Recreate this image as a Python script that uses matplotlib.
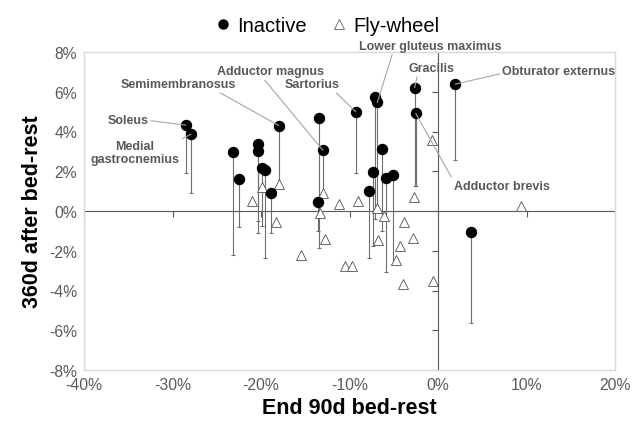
import matplotlib
matplotlib.use("Agg")
import matplotlib.pyplot as plt
from matplotlib.lines import Line2D
from matplotlib.markers import TICKDOWN, TICKLEFT
from matplotlib.ticker import FuncFormatter

plt.rcParams['font.family'] = ['Liberation Sans', 'DejaVu Sans']

# ---------------- data (percent) ----------------
inactive_x = [-28.5, -27.9, -23.2, -22.5, -20.3, -20.3, -19.9, -19.5, -18.9, -18.0,
              -13.5, -13.0, -13.6, -9.3, -7.15, -6.86, -6.29, -7.34, -5.9, -5.05,
              -7.8, -2.64, -2.52, 1.92, 3.69]
inactive_y = [4.32, 3.87, 2.95, 1.6, 3.37, 3.03, 2.16, 2.04, 0.89, 4.3,
              4.66, 3.05, 0.44, 4.99, 5.76, 5.46, 3.12, 1.98, 1.68, 1.79,
              0.99, 6.21, 4.91, 6.38, -1.04]
inactive_low = [1.9, 0.93, -2.2, -0.8, -1.12, -0.5, -0.77, -2.36, -1.12, 1.3,
                -1.87, 0.92, -1.0, 1.9, -0.4, 0.1, -0.99, -1.74, -3.08, -2.66,
                -2.36, 1.25, 1.25, 2.56, -5.65]

flywheel_x = [-20.98, -19.85, -18.0, -18.35, -15.45, -13.3, -12.96, -12.77, -11.15,
              -9.07, -10.5, -9.75, -6.86, -6.1, -6.75, -3.8, -2.86, -4.29, -4.78,
              -2.68, -0.64, -3.9, -0.53, 9.35]
flywheel_y = [0.49, 1.22, 1.36, -0.54, -2.2, -0.1, 0.92, -1.41, 0.37,
              0.49, -2.75, -2.78, 0.14, -0.24, -1.44, -0.54, -1.36, -1.74, -2.45,
              0.72, 3.57, -3.67, -3.52, 0.27]

label_names = ["Soleus", "Medial\ngastrocnemius", "Semimembranosus", "Adductor magnus",
               "Sartorius", "Lower gluteus maximus", "Gracilis", "Obturator externus",
               "Adductor brevis"]
label_point = [0, 1, 9, 11, 13, 15, 21, 23, 22]

x_ticks = [-40, -30, -20, -10, 0, 10, 20]
y_ticks = [-8, -6, -4, -2, 0, 2, 4, 6, 8]

# label text positions and leader start points on the text box (layout)
label_pos = [(-35.06, 4.59), (-34.24, 2.95), (-29.32, 6.38), (-18.98, 7.02),
             (-14.27, 6.38), (-0.9, 8.31), (-0.73, 7.19), (13.67, 7.02), (7.18, 1.27)]
label_rel = [(1.0, 0.45), (0.88, 0.78), (0.82, 0.0), (0.43, 0.0),
             (0.9, 0.0), (0.24, 0.0), (0.2, 0.0), (0.0, 0.35), (0.0, 0.9)]

# ---------------- figure ----------------
W, H = 633, 427
fig = plt.figure(figsize=(W / 100, H / 100), dpi=100)
ax = fig.add_axes([84 / W, 1 - 371 / H, (615 - 84) / W, (371 - 53) / H])

ax.set_xlim(x_ticks[0], x_ticks[-1])
ax.set_ylim(y_ticks[0], y_ticks[-1])
ax.set_xticks(x_ticks)
ax.set_yticks(y_ticks)
ax.xaxis.set_major_formatter(FuncFormatter(lambda v, p: f"{v:.0f}%"))
ax.yaxis.set_major_formatter(FuncFormatter(lambda v, p: f"{v:.0f}%"))
ax.tick_params(length=0, labelsize=11.3, labelcolor='#595959', pad=5)
for s in ax.spines.values():
    s.set_color('#d9d9d9')
    s.set_linewidth(1.0)

# zero axes with outside ticks
ax.axhline(0, color='#595959', lw=0.8, zorder=1)
ax.axvline(0, color='#595959', lw=0.8, zorder=1)
ax.plot(x_ticks, [0] * len(x_ticks), ls='none', marker=TICKDOWN, ms=4,
        mew=0.8, color='#595959', zorder=1, clip_on=False)
ax.plot([0] * len(y_ticks), y_ticks, ls='none', marker=TICKLEFT, ms=4,
        mew=0.8, color='#595959', zorder=1, clip_on=False)

# error bars (downward) for Inactive
lower = [y - l for y, l in zip(inactive_y, inactive_low)]
ax.errorbar(inactive_x, inactive_y, yerr=[lower, [0] * len(lower)], fmt='none',
            ecolor='#6e6e6e', elinewidth=0.8, capsize=1.6, capthick=0.8, zorder=2)

# Fly-wheel triangles
ax.plot(flywheel_x, flywheel_y, ls='none', marker='^', ms=7.5, mfc='white',
        mec='#505050', mew=0.6, zorder=3)
# Inactive dots
ax.plot(inactive_x, inactive_y, ls='none', marker='o', ms=7.2, color='black', zorder=4)

# annotations
for name, idx, (tx, ty), rp in zip(label_names, label_point, label_pos, label_rel):
    ax.annotate(name, xy=(inactive_x[idx], inactive_y[idx]), xytext=(tx, ty),
                ha='center', va='center', fontsize=9, fontweight='bold',
                color='#595959', linespacing=1.05, annotation_clip=False,
                arrowprops=dict(arrowstyle='-', color='#a6a6a6', lw=0.8,
                                shrinkA=0, shrinkB=0, relpos=rp), zorder=5)

ax.set_xlabel("End 90d bed-rest", fontsize=15.5, fontweight='bold', labelpad=4)
ax.set_ylabel("360d after bed-rest", fontsize=15.5, fontweight='bold', labelpad=4)

handles = [Line2D([], [], ls='none', marker='o', ms=6.5, color='black'),
           Line2D([], [], ls='none', marker='^', ms=7, mfc='white', mec='#606060', mew=0.6)]
fig.legend(handles, ["Inactive", "Fly-wheel"], loc='center',
           bbox_to_anchor=(327 / W, 1 - 27 / H), ncol=2, frameon=False,
           fontsize=14.5, handlelength=0.8, handletextpad=0.3, columnspacing=1.2,
           borderpad=0.1)

fig.savefig("out.png", dpi=100, facecolor='white')
